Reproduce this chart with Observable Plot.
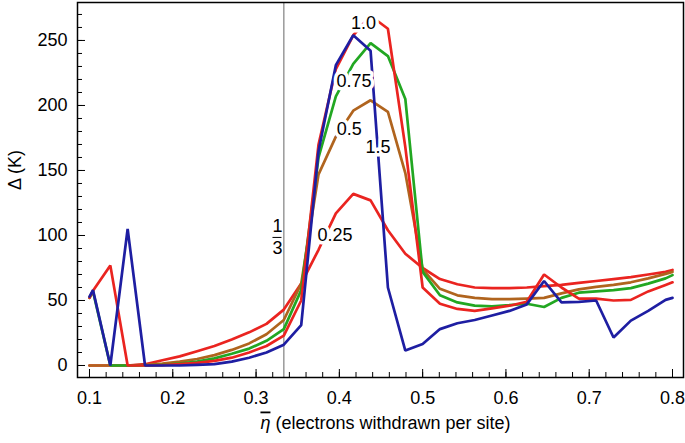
<!DOCTYPE html>
<html><head><meta charset="utf-8">
<script src="https://cdn.jsdelivr.net/npm/d3@7"></script>
<script src="https://cdn.jsdelivr.net/npm/@observablehq/plot@0.6"></script>
<style>body{margin:0;background:#fff;}</style>
</head><body><div id="chart"></div>
<script>
// η̄ grid (electrons withdrawn per site)
const eta = [0.1, 0.1042, 0.125, 0.1458, 0.1667, 0.1875, 0.2083, 0.2292, 0.25, 0.2708, 0.2917, 0.3125,
  0.3333, 0.3542, 0.375, 0.3958, 0.4167, 0.4375, 0.4583, 0.4792, 0.5, 0.5208, 0.5417, 0.5625, 0.5833,
  0.6042, 0.625, 0.6458, 0.6667, 0.6875, 0.7083, 0.7292, 0.75, 0.7708, 0.7917, 0.8];

// Δ (K) for each curve
const delta025 = [0, 0, 0, 0, 1, 4, 7, 11, 15, 20, 25.5, 32, 43, 63, 89, 117, 132, 127, 104, 86,
  75, 66.5, 62.5, 60, 59.5, 59.5, 60, 61, 62, 63.5, 65, 66.5, 68, 70, 72, 73.5];
const delta05 = [0, 0, 0, 0, 0.5, 1.5, 3, 5, 8, 12, 17, 24, 35, 63, 147, 176, 196, 204, 195, 148,
  74, 59, 54, 52, 51, 51, 51.5, 52, 55.5, 58.5, 60.5, 62, 64, 67, 70.5, 72];
const delta075 = [52, 57, 0, 0, 0, 0.5, 1.5, 3, 5.5, 9, 13, 19, 28, 58, 160, 207, 232, 248, 238, 205,
  72, 54, 48.5, 46, 45.5, 46.5, 47.5, 45, 52, 56, 57, 58, 59.5, 63, 67, 69.5];
const delta10 = [52, 57.5, 77, 0, 0, 0.3, 1, 2, 3.5, 6, 10, 15, 23, 50, 170, 228, 254, 269, 259, 168,
  60, 47.5, 43.5, 42, 44, 46, 49, 70, 60, 51.5, 51.5, 50, 50.5, 57, 62, 64];
const delta15 = [53, 58, 0, 105, 0, 0, 0, 0.5, 1, 3, 6, 10, 16, 31, 165, 231, 254, 242, 60, 11.5,
  16.5, 28, 32.5, 35, 38.5, 42, 47, 65, 48.5, 49, 50, 21.5, 34.5, 42, 50.5, 52];

const seriesNames = ["0.25", "0.5", "0.75", "1.0", "1.5"];
const seriesValues = [delta025, delta05, delta075, delta10, delta15];
const seriesColors = ["#ea2420", "#b0641e", "#22a722", "#ea2420", "#1e1ea2"];

const xTicks = [0.1, 0.2, 0.3, 0.4, 0.5, 0.6, 0.7, 0.8];
const xTickLabels = ["0.1", "0.2", "0.3", "0.4", "0.5", "0.6", "0.7", "0.8"];
const yTicks = [0, 50, 100, 150, 200, 250];
const xMinor = d3.range(10, 81, 2).map(d => d / 100);
const yMinor = d3.range(0, 271, 10);

const curveLabels = [
  {text: "1.0", x: 0.429, y: 263},
  {text: "0.75", x: 0.4175, y: 218.5},
  {text: "0.5", x: 0.4118, y: 182},
  {text: "1.5", x: 0.4464, y: 168},
  {text: "0.25", x: 0.3947, y: 100}
];
const thirdX = 1 / 3;
const fracLabels = [{text: "1", x: 0.3257, y: 107.5}, {text: "3", x: 0.3257, y: 90.5}];
const fracBar = [{y: 98.5, x1: 0.3203, x2: 0.3311}];

const xLabelVar = "η";
const xLabelRest = " (electrons withdrawn per site)";
const xLabel = xLabelVar + xLabelRest;
const yLabel = "Δ (K)";

const data = seriesNames.flatMap((s, i) => eta.map((x, j) => ({series: s, idx: i, x, y: seriesValues[i][j]})));

const W = 685, H = 443, mL = 77, mR = 2, mT = 2, mB = 66;
const plotW = W - mL - mR, plotH = H - mT - mB;

const chart = Plot.plot({
  width: W, height: H,
  marginLeft: mL, marginRight: mR, marginTop: mT, marginBottom: mB,
  style: {fontFamily: "'Liberation Sans', Arial, sans-serif", fontSize: "18px", background: "white", color: "black"},
  x: {domain: [0.0856, 0.8132]},
  y: {domain: [-9.23, 279.2]},
  marks: [
    Plot.ruleX([thirdX], {x: d => d, stroke: "#8a8a8a", strokeWidth: 1.3}),
    Plot.line(data, {x: "x", y: "y", z: "series", stroke: d => seriesColors[d.idx], strokeWidth: 2.7, strokeLinejoin: "miter"}),
    Plot.text(curveLabels, {x: "x", y: "y", text: "text", fill: "black", stroke: "white", strokeWidth: 7, fontSize: 18}),
    Plot.text(fracLabels, {x: "x", y: "y", text: "text", fill: "black", fontSize: 18}),
    Plot.ruleY(fracBar, {y: "y", x1: "x1", x2: "x2", stroke: "black", strokeWidth: 1}),
    Plot.ruleX(xMinor, {x: d => d, insetTop: plotH - 5, stroke: "black", strokeWidth: 1}),
    Plot.ruleX(xTicks, {x: d => d, insetTop: plotH - 8, stroke: "black", strokeWidth: 1}),
    Plot.ruleY(yMinor, {y: d => d, insetRight: plotW - 5, stroke: "black", strokeWidth: 1}),
    Plot.ruleY(yTicks, {y: d => d, insetRight: plotW - 8, stroke: "black", strokeWidth: 1}),
    Plot.frame({stroke: "black", strokeWidth: 1.5}),
    Plot.axisX(xTicks, {tickSize: 0, tickPadding: 14, tickFormat: (d, i) => xTickLabels[i], label: null, fontSize: 18}),
    Plot.axisY(yTicks, {tickSize: 0, tickPadding: 10, label: null, fontSize: 18}),
    Plot.text([xLabel], {text: d => d, frameAnchor: "bottom", dy: 51, dx: 5, fontSize: 18}),
    Plot.text([yLabel], {text: d => d, frameAnchor: "left", rotate: -90, dx: -62, fontSize: 18})
  ]
});

d3.select(chart).selectAll("text").filter(function () { return this.textContent === xLabel; })
  .each(function () {
    const t = d3.select(this);
    t.text(null);
    t.append("tspan").attr("font-style", "italic").style("text-decoration", "overline").text(xLabelVar);
    t.append("tspan").text(xLabelRest);
  });

document.getElementById("chart").appendChild(chart);
</script>
</body></html>
